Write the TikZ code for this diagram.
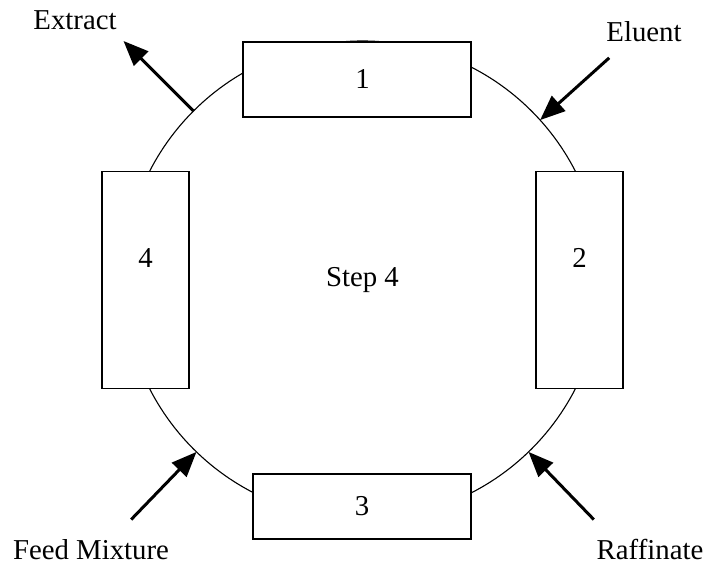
\documentclass[tikz,border=0pt]{standalone}
\usepackage{fontspec}
\setmainfont{Liberation Serif}
\usetikzlibrary{arrows.meta}
\tikzset{
  column/.style={draw, line width=0.7pt, fill=white, inner sep=0pt},
  flow/.style={line width=1.5pt, -{Triangle[length=12.5pt,width=10pt]}},
}

\begin{document}
\begin{tikzpicture}[font=\fontsize{14.4}{17}\selectfont]
  \useasboundingbox (-181.25pt,-142.5pt) rectangle (171.75pt,140pt);

  %%%%% RING %%%%%
  \node (step) at (0,0) {Step 4};
  \draw[line width=0.55pt] (step.center) circle (119.5pt);

  %%%%% COLUMNS %%%%%
  \node[column, minimum width=114pt, minimum height=37.5pt,
        label={[xshift=2.75pt]center:1}] (col1) at (-2.75pt,100.25pt) {};
  \node[column, minimum width=43.5pt, minimum height=108.5pt,
        label={[yshift=11pt]center:2}] (col2) at (108.5pt,0pt) {};
  \node[column, minimum width=109pt, minimum height=32.5pt,
        label={center:3}] (col3) at (-0.25pt,-113.25pt) {};
  \node[column, minimum width=43.5pt, minimum height=108.5pt,
        label={[yshift=11pt]center:4}] (col4) at (-108.5pt,0pt) {};

  %%%%% PORTS %%%%%
  \coordinate (exIn)    at (135:119.5pt);
  \coordinate (exOut)   at (135:169pt);
  \coordinate (elIn)    at (42:119.5pt);
  \coordinate (elOut)   at (42:166pt);
  \coordinate (feedIn)  at (226:119.5pt);
  \coordinate (feedOut) at (226:166.5pt);
  \coordinate (rafIn)   at (314:119.5pt);
  \coordinate (rafOut)  at (314:166.5pt);

  \draw[flow] (exIn) -- (exOut);
  \draw[flow] (elOut) -- (elIn);
  \draw[flow] (feedOut) -- (feedIn);
  \draw[flow] (rafOut) -- (rafIn);

  %%%%% STREAMS %%%%%
  \node (extract) at (-143.75pt,130pt) {Extract};
  \node (eluent)  at (140.75pt,124pt) {Eluent};
  \node (feed)    at (-135.75pt,-135pt) {Feed Mixture};
  \node (raff)    at (143.75pt,-135pt) {Raffinate};
\end{tikzpicture}
\end{document}
